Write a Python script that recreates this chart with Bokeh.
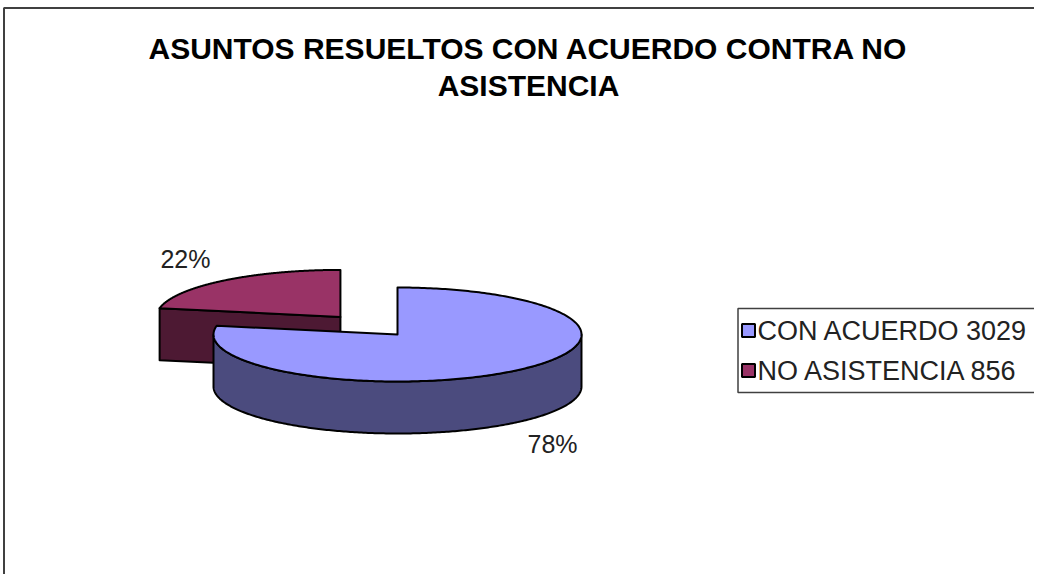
import numpy as np
from bokeh.plotting import figure
from bokeh.models import Range1d
from bokeh.core.properties import value
from bokeh.embed import file_html
from bokeh.resources import INLINE

# ---------------- data ----------------
categories = ["CON ACUERDO", "NO ASISTENCIA"]
counts = [3029, 856]
pct_labels = ["78%", "22%"]
legend_labels = ["CON ACUERDO 3029", "NO ASISTENCIA  856"]
top_colors = ["#9999FF", "#993366"]
side_colors = ["#4B4B7E", "#4D1933"]
explode = [0.0, 0.486]
title_lines = ["ASUNTOS RESUELTOS CON ACUERDO CONTRA NO", "ASISTENCIA"]

# ---------------- figure (data units == screenshot pixels) ----------------
W, H = 1034, 574
p = figure(width=W, height=H, x_range=Range1d(0, W), y_range=Range1d(H, 0),
           output_backend="svg", toolbar_location=None, min_border=0,
           x_axis_location=None, y_axis_location=None)
p.grid.visible = False
p.outline_line_color = None
p.background_fill_color = "white"
p.border_fill_color = "white"

FONT = "Liberation Sans"

# chart border (only left and top edges visible in the reference)
p.line(x=[3.5, 3.5, 1100], y=[700, 7.5, 7.5], line_color="#404040", line_width=2)

# title
p.text(x=[528, 528], y=[48, 85], text=title_lines, text_font=value(FONT),
       text_font_size="30px", text_font_style="bold", text_align="center",
       text_baseline="middle", text_color="black")

# ---------------- 3D pie ----------------
cx, cy = 397.0, 334.0
rx, ry = 184.0, 47.0
depth = 52.0

total = float(sum(counts))
fracs = [c / total for c in counts]

def ell(c, th, dz=0.0):
    return c[0] + rx * np.cos(th), c[1] - ry * np.sin(th) + dz

slices = []
cum = 0.0
for i, f in enumerate(fracs):
    a0 = np.deg2rad(90 - cum * 360)
    a1 = np.deg2rad(90 - (cum + f) * 360)
    cum += f
    mid = 0.5 * (a0 + a1)
    c = (cx + explode[i] * rx * np.cos(mid), cy - explode[i] * ry * np.sin(mid))
    slices.append((i, a0, a1, mid, c))

# draw back slices first (the exploded one lies behind)
order = [1, 0]
lw = 2
for i in order:
    _, a0, a1, mid, c = slices[i]
    # radial cut faces
    for a, vis in ((a0, np.cos(a0) < -1e-6), (a1, np.cos(a1) > 1e-6)):
        if vis:
            px, py = ell(c, a)
            xs = [c[0], px, px, c[0]]
            ys = [c[1], py, py + depth, c[1] + depth]
            p.patch(xs, ys, fill_color=side_colors[i], line_color="black",
                    line_width=lw, line_join="round")
    # outer curved side (front half only)
    th = np.linspace(a1, a0, 400)
    vis = np.sin(th) <= 0
    if vis.any():
        idx = np.where(vis)[0]
        runs = np.split(idx, np.where(np.diff(idx) != 1)[0] + 1)
        for r in runs:
            t = th[r]
            tx, ty = ell(c, t)
            xs = list(tx) + list(tx[::-1])
            ys = list(ty) + list((ty + depth)[::-1])
            p.patch(xs, ys, fill_color=side_colors[i], line_color="black",
                    line_width=lw, line_join="round")
    # top face
    t = np.linspace(a0, a1, 300)
    tx, ty = ell(c, t)
    xs = [c[0]] + list(tx)
    ys = [c[1]] + list(ty)
    p.patch(xs, ys, fill_color=top_colors[i], line_color="black",
            line_width=lw, line_join="round")

# percentage labels
lab_x, lab_y = [], []
for i, a0, a1, mid, c in slices:
    lx = c[0] + 1.32 * rx * np.cos(mid)
    ly = c[1] - 1.6 * ry * np.sin(mid) + (depth if np.sin(mid) < 0 else 0)
    lab_x.append(lx)
    lab_y.append(ly)
p.text(x=lab_x, y=lab_y, text=pct_labels, text_font=value(FONT),
       text_font_size="25px", text_align="center", text_baseline="middle",
       text_color="#222222")

# ---------------- legend ----------------
lg_left, lg_top, lg_bottom = 737.5, 308, 392
p.line(x=[1100, lg_left, lg_left, 1100], y=[lg_top, lg_top, lg_bottom, lg_bottom],
       line_color="#404040", line_width=1.5)
ly0, dy = 330, 40
leg_y = [ly0 + k * dy for k in range(len(legend_labels))]
p.rect(x=[748] * len(legend_labels), y=leg_y, width=13, height=13,
       fill_color=top_colors, line_color="black", line_width=2)
p.text(x=[757] * len(legend_labels), y=leg_y, text=legend_labels,
       text_font=value(FONT), text_font_size="27px", text_align="left",
       text_baseline="middle", text_color="#222222")

open("out.html", "w").write(file_html(p, INLINE))
